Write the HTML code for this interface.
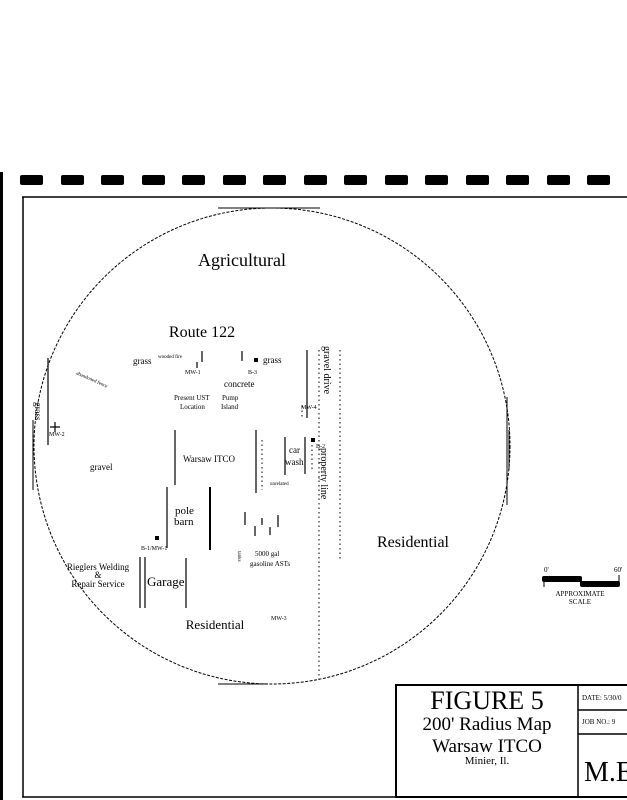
<!DOCTYPE html>
<html><head><style>
html,body{margin:0;padding:0;background:#fff;}
svg{display:block;}
text{font-family:"Liberation Serif",serif;fill:#000;}
</style></head><body>
<svg width="627" height="800" viewBox="0 0 627 800" xmlns="http://www.w3.org/2000/svg">
<g fill="#000">
<rect x="20" y="175" width="23" height="10" rx="2"/><rect x="61" y="175" width="23" height="10" rx="2"/>
<rect x="101" y="175" width="23" height="10" rx="2"/><rect x="142" y="175" width="23" height="10" rx="2"/>
<rect x="182" y="175" width="23" height="10" rx="2"/><rect x="223" y="175" width="23" height="10" rx="2"/>
<rect x="263" y="175" width="23" height="10" rx="2"/><rect x="304" y="175" width="23" height="10" rx="2"/>
<rect x="344" y="175" width="23" height="10" rx="2"/><rect x="385" y="175" width="23" height="10" rx="2"/>
<rect x="425" y="175" width="23" height="10" rx="2"/><rect x="466" y="175" width="23" height="10" rx="2"/>
<rect x="506" y="175" width="23" height="10" rx="2"/><rect x="547" y="175" width="23" height="10" rx="2"/>
<rect x="587" y="175" width="23" height="10" rx="2"/>
</g>
<rect x="0" y="172" width="3" height="628" fill="#000"/>
<path d="M22 197 H627 M23 197 V797 M22 797 H627" stroke="#000" stroke-width="1.5" fill="none"/>
<circle cx="272" cy="446" r="238" fill="none" stroke="#000" stroke-width="1" stroke-dasharray="3,1.5"/>
<path d="M218 208 H320 M218 684 H268 M507 397 V505 M509 430 V470 M33 420 V490" stroke="#000" stroke-width="1"/>
<g font-size="18" text-anchor="middle">
<text x="242" y="266">Agricultural</text>
<text x="202" y="337" font-size="16">Route 122</text>
<text x="377" y="547" font-size="16" text-anchor="start">Residential</text>
<text x="215" y="629" font-size="13">Residential</text>
</g>
<g stroke="#000" stroke-width="1.2" fill="none">
<path d="M202 351 V362 M197 362 V368 M242 351 V361 M307 350 V418 M48 358 V445"/>
<path d="M175 430 V485 M256 430 V493 M285 437 V475 M305 437 V474"/>
<path d="M167 487 V548"/><path d="M210 487 V550" stroke-width="2"/>
<path d="M140 557 V608 M145 557 V608 M186 558 V608"/>
<path d="M55 422 V432 M50 427 H60"/>
<path d="M245 512 V525 M262 518 V525 M278 515 V527 M255 526 V536 M270 527 V535"/>
</g>
<g stroke="#000" stroke-width="1" stroke-dasharray="1.5,3">
<path d="M319 350 V680 M340 350 V560 M262 440 V490 M312 445 V470 M302 406 V418"/>
</g>
<g fill="#000">
<rect x="254" y="358" width="4" height="4"/><rect x="311" y="438" width="4" height="4"/><rect x="155" y="536" width="4" height="4"/>
</g>
<g font-size="9">
<text x="133" y="364">grass</text>
<text x="263" y="363">grass</text>
<text x="158" y="358" font-size="5">wooded fire</text>
<text x="185" y="374" font-size="6">MW-1</text>
<text x="248" y="374" font-size="6">B-3</text>
<text x="224" y="387">concrete</text>
<text x="174" y="400" font-size="7">Present UST</text>
<text x="180" y="409" font-size="7">Location</text>
<text x="222" y="400" font-size="7">Pump</text>
<text x="221" y="409" font-size="7">Island</text>
<text x="301" y="409" font-size="6">MW-4</text>
<text x="49" y="436" font-size="6">MW-2</text>
<text x="316" y="448" font-size="6">B-2</text>
<text x="90" y="470">gravel</text>
<text x="183" y="462">Warsaw ITCO</text>
<text x="289" y="453">car</text>
<text x="285" y="465">wash</text>
<text x="270" y="485" font-size="5">unrelated</text>
<text x="175" y="514" font-size="11">pole</text>
<text x="174" y="525" font-size="11">barn</text>
<text x="141" y="550" font-size="6">B-1/MW-1</text>
<text x="255" y="556" font-size="7">5000 gal</text>
<text x="250" y="566" font-size="7">gasoline ASTs</text>
<text x="147" y="586" font-size="13">Garage</text>
<text x="98" y="570" text-anchor="middle">Rieglers Welding</text>
<text x="98" y="578" text-anchor="middle">&amp;</text>
<text x="98" y="587" text-anchor="middle">Repair Service</text>
<text x="271" y="620" font-size="6">MW-3</text>
<text transform="translate(76,374) rotate(24)" font-size="5">abandoned fence</text>
<text transform="translate(35,402) rotate(90)" font-size="9">grass</text>
<text transform="translate(238,551) rotate(90)" font-size="5">tanks</text>
<text transform="translate(324,346) rotate(90)" font-size="10">gravel drive</text>
<text transform="translate(321,448) rotate(90)" font-size="10">property line</text>
</g>
<rect x="542" y="576" width="40" height="6" rx="2" fill="#000"/>
<rect x="580" y="581" width="40" height="6" rx="2" fill="#000"/>
<path d="M544 577 V587 M619 575 V583" stroke="#000"/>
<g font-size="7">
<text x="544" y="572">0'</text><text x="614" y="572">60'</text>
<text x="580" y="596" text-anchor="middle">APPROXIMATE</text>
<text x="580" y="604" text-anchor="middle">SCALE</text>
</g>
<rect x="396" y="685" width="240" height="112" fill="none" stroke="#000" stroke-width="2"/>
<path d="M578 685 V797 M578 710 H627 M578 734 H627" stroke="#000" stroke-width="1.5"/>
<g text-anchor="middle">
<text x="487" y="709" font-size="26">FIGURE 5</text>
<text x="487" y="730" font-size="19">200' Radius Map</text>
<text x="487" y="752" font-size="19">Warsaw ITCO</text>
<text x="487" y="764" font-size="11">Minier, Il.</text>
</g>
<text x="582" y="700" font-size="7">DATE: 5/30/0</text>
<text x="582" y="724" font-size="7">JOB NO.: 9</text>
<text x="584" y="781" font-size="28">M.E</text>
</svg>
</body></html>
